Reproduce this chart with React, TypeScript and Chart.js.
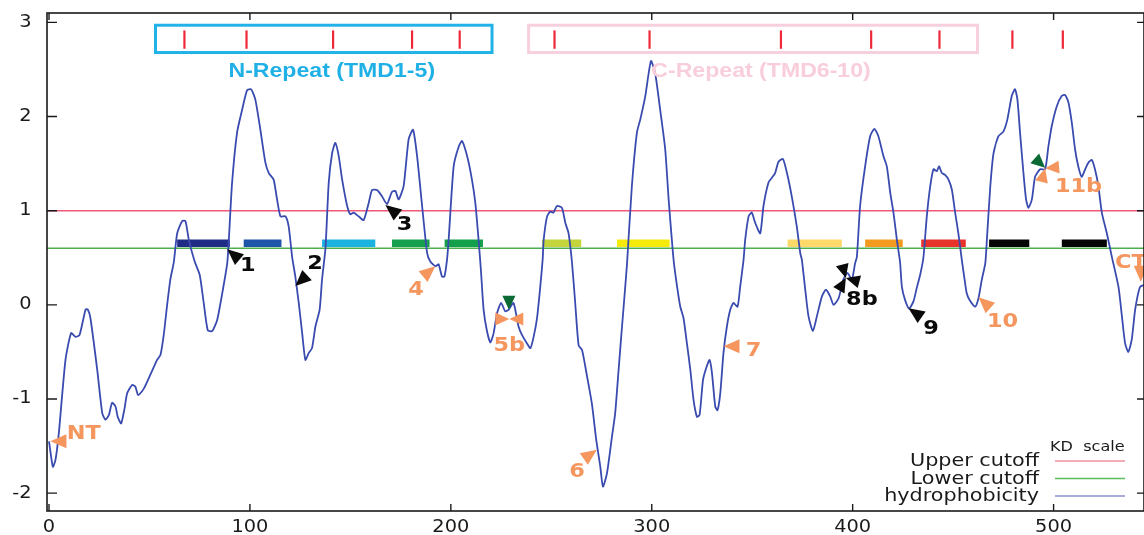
import React, { useEffect, useRef } from 'react';
import { Chart, registerables } from 'chart.js';

Chart.register(...registerables);

// ---------- data ----------
const residues = [
  0, 1.9, 3.2, 4.9, 8.2, 11, 13.2, 15.2, 18.2, 19.3, 20.6, 24, 26.5, 28.1, 29.8, 31.4, 33.1, 34.2, 35.9, 37.6,
  38.9, 41.4, 43, 44.4, 47.2, 50.5, 53.8, 55.5, 57.1, 58.8, 60.4, 62.1, 63.8, 66.3, 67.9, 69.6, 72.5, 75, 77, 79,
  81.2, 83.7, 86.2, 88.7, 89.5, 91.1, 93.6, 96.1, 98.6, 100.6, 102.7, 105.2, 107.7, 109.4, 111.8, 113.5, 115.2, 117.7, 119.3, 121,
  122.6, 124.3, 126, 127.6, 129.3, 130.9, 132.6, 134.7, 135.9, 137.6, 139.2, 140.9, 142.5, 144.2, 145.9, 148.4, 150, 151.6, 154.1, 156.6,
  159.1, 160.8, 163.3, 165.8, 168.2, 170.7, 172.4, 174, 176.5, 179, 181.2, 183.2, 185.7, 188.2, 189.8, 192.3, 193.9, 195.6, 196.8, 198.1,
  198.9, 201.4, 203.9, 205.6, 208.1, 210.5, 212.2, 213.8, 215, 216.3, 218, 219.7, 221.3, 223, 225, 227.1, 228.8, 231.2, 233.7, 235.4,
  237.9, 239.6, 241.2, 242.9, 244.5, 245.7, 246.2, 247.9, 249.5, 251.1, 252.8, 255.3, 257, 258.6, 260.3, 261.9, 263.6, 265.3, 267.8, 270.2,
  272.4, 274.4, 275.7, 277.7, 280.2, 281.8, 283.5, 285.2, 286.8, 287.7, 290.1, 292.6, 294.3, 296.8, 299.6, 301.7, 304.2, 306.7, 308.4, 310,
  311, 312.5, 314.2, 315.8, 317.5, 319.2, 320.8, 322.5, 323.8, 325.5, 327.1, 328.8, 330, 331.6, 332.7, 334.1, 335.7, 337.4, 339.1, 340.7,
  342.7, 344, 345.7, 346.5, 348.2, 349.8, 351.5, 354, 355.6, 358.1, 359.8, 361.4, 363.1, 365.3, 367.3, 369.7, 372.2, 373.9, 374.7, 376.4,
  378, 380.2, 382.2, 384.7, 386.7, 388.8, 390.5, 393, 395.4, 397.4, 399.6, 401.2, 402.1, 403.7, 406.2, 408.7, 410.8, 412.8, 415.3, 417,
  418.7, 420.3, 422, 423.6, 424.5, 426.1, 428.1, 430.3, 431.9, 433.6, 435.2, 436.9, 438.6, 440.2, 441.9, 443, 444.4, 446, 447.7, 449.4,
  451, 452.6, 454.3, 455.5, 456.8, 458.5, 461, 462.6, 464.3, 466, 466.8, 468.5, 470.1, 472.5, 475, 477, 479.2, 480.8, 482, 483.3,
  485, 486.3, 487.5, 489.2, 490.8, 493.3, 495.8, 497.4, 499.1, 501.6, 504.1, 505.7, 507.4, 509.1, 510.7, 512.3, 514, 515.7, 517.3, 519,
  520.6, 522.3, 524, 526.5, 529, 532.3, 534, 535.6, 537.2, 538.9, 540.6, 543, 545,
];

const kdValues = [
  -1.45, -1.72, -1.65, -1.36, -0.585, -0.3, -0.34, -0.32, -0.05, -0.05, -0.14, -0.69, -1.15, -1.22, -1.17, -1.04, -1.08, -1.19, -1.26, -1.1,
  -0.94, -0.85, -0.87, -0.96, -0.89, -0.74, -0.585, -0.53, -0.32, 0, 0.27, 0.45, 0.76, 0.89, 0.89, 0.69, 0.46, 0.32, 0.02, -0.27,
  -0.28, -0.16, 0.12, 0.44, 0.69, 1.29, 1.83, 2.07, 2.28, 2.29, 2.18, 1.86, 1.51, 1.4, 1.33, 1.12, 0.94, 0.94, 0.83, 0.51,
  0.3, 0.02, -0.3, -0.585, -0.51, -0.46, -0.23, -0.05, 0.27, 0.6, 1.29, 1.61, 1.72, 1.58, 1.33, 1.05, 0.96, 0.98, 0.94, 0.9,
  1.08, 1.22, 1.22, 1.15, 1.07, 1.2, 1.21, 1.12, 1.26, 1.76, 1.86, 1.58, 1.05, 0.55, 0.46, 0.41, 0.43, 0.3, 0.3, 0.48,
  0.69, 1.47, 1.68, 1.74, 1.58, 1.33, 1.08, 0.69, 0.36, -0.05, -0.28, -0.4, -0.3, -0.09, 0.02, -0.07, -0.05, 0.02, -0.23, -0.32,
  -0.41, -0.46, -0.34, -0.14, 0.19, 0.48, 0.69, 0.94, 0.99, 0.98, 1.05, 1.03, 0.87, 0.76, 0.45, 0.02, -0.43, -0.48, -0.76, -1.05,
  -1.44, -1.72, -1.93, -1.79, -1.4, -1.15, -0.69, -0.23, 0.19, 0.44, 1.26, 1.83, 1.97, 2.22, 2.59, 2.46, 2.07, 1.65, 1.12, 0.69,
  0.45, 0.21, -0.02, -0.14, -0.41, -0.69, -1.01, -1.19, -1.17, -0.8, -0.67, -0.585, -0.73, -1.08, -1.12, -0.94, -0.51, -0.23, -0.05, 0.02,
  -0.02, 0.19, 0.48, 0.69, 0.94, 0.98, 0.87, 0.76, 1.05, 1.3, 1.35, 1.4, 1.52, 1.55, 1.4, 1.15, 0.83, 0.55, 0.48, 0.16,
  -0.12, -0.28, -0.12, 0.09, 0.16, 0.09, 0, 0.07, 0.27, 0.34, 0.27, 0.44, 0.51, 1.05, 1.47, 1.79, 1.87, 1.79, 1.58, 1.47,
  1.19, 0.98, 0.69, 0.45, 0.19, 0.05, -0.04, 0.04, 0.18, 0.32, 0.5, 0.94, 1.26, 1.44, 1.42, 1.47, 1.4, 1.38, 1.33, 1.22,
  0.98, 0.76, 0.48, 0.3, 0.12, 0.04, -0.02, 0.07, 0.27, 0.44, 0.69, 1.26, 1.61, 1.79, 1.84, 1.97, 2.22, 2.29, 2.18, 1.83,
  1.4, 1.12, 1.03, 1.12, 1.36, 1.44, 1.44, 1.68, 1.9, 2.11, 2.22, 2.23, 2.15, 1.93, 1.65, 1.47, 1.36, 1.44, 1.51, 1.54,
  1.44, 1.26, 0.98, 0.76, 0.51, 0.19, -0.12, -0.41, -0.5, -0.37, -0.05, 0.19, 0.21,
];

const xTickValues = [0, 100, 200, 300, 400, 500];
const yTickValues = [-2, -1, 0, 1, 2, 3];
const upperCutoff = 1.0;
const lowerCutoff = 0.6;

// predicted transmembrane segments (start / end residue) and their colours
const tmdStarts = [63.8, 96.9, 135.9, 170.7, 196.9, 245.4, 282.7, 367.6, 406.2, 434.1, 467.9, 504.1];
const tmdEnds = [90, 115.7, 162.4, 189.4, 216, 264.9, 308.9, 394.6, 424.9, 456.3, 487.9, 526.5];
const tmdColors = ['#1f2c86', '#1d55a8', '#1cb2e0', '#16a04e', '#14a04a', '#c4d43c', '#f6ea0c', '#fdd96a', '#f39b20', '#e8332b', '#050505', '#050505'];
const tmdLevel = 0.655;

// repeat boxes and marks above the plot
const repeatNames = ['N-Repeat (TMD1-5)', 'C-Repeat (TMD6-10)'];
const repeatStarts = [53, 238.7];
const repeatEnds = [220.5, 462.1];
const repeatColors = ['#21b3e8', '#f8d0dd'];
const repeatMarks = [67.4, 98.3, 141.4, 180.7, 204.4, 251.6, 298.9, 364.3, 409.2, 443.2, 479.5, 504.6];

// annotation labels
const labelTexts = ['NT', '1', '2', '3', '4', '5b', '6', '7', '8b', '9', '10', '11b', 'CT'];
const labelX = [17.3, 99.0, 132.4, 177.0, 182.7, 229.1, 262.8, 350.6, 404.6, 439.0, 474.6, 512.4, 530.6];
const labelY = [-1.375, 0.41, 0.44, 0.85, 0.16, -0.434, -1.77, -0.487, 0.053, -0.255, -0.178, 1.259, 0.447];
const labelColors = ['o', 'k', 'k', 'k', 'o', 'o', 'o', 'o', 'k', 'k', 'o', 'o', 'o'];

// arrowheads: tip position (data), pointing angle (deg, screen), colour
const arrowX = [0.7, 88.7, 122.6, 167.4, 192.3, 228.9, 229.1, 229.1, 272.7, 335.7, 396.6, 396.6, 396.6, 427.8, 462.6, 495.8, 495.8, 495.8, 543.4];
const arrowY = [-1.45, 0.59, 0.2, 1.06, 0.41, -0.053, -0.15, -0.15, -1.54, -0.44, 0.284, 0.284, 0.284, -0.035, 0.08, 1.457, 1.45, 1.45, 0.245];
const arrowAngle = [180, 220, 137, 218, 320, 90, 0, 180, 325, 180, 75, 300, 195, 215, 222, 42, 175, 285, 90];
const arrowColors = ['o', 'k', 'k', 'k', 'o', 'g', 'o', 'o', 'o', 'o', 'k', 'k', 'k', 'k', 'o', 'g', 'o', 'o', 'o'];

const legendNames = ['Upper cutoff', 'Lower cutoff', 'hydrophobicity'];

const COLORS: Record<string, string> = { o: '#f5965e', k: '#0a0a0a', g: '#0b6a34' };
const CURVE = '#3a4bb0';
const UPPER = '#f0587a';
const LOWER = '#4db050';

function drawText(ctx: CanvasRenderingContext2D, text: string, x: number, y: number, font: string, color: string, align: CanvasTextAlign, stretch: number) {
  ctx.save();
  ctx.translate(x, y);
  ctx.scale(stretch, 1);
  ctx.font = font;
  ctx.fillStyle = color;
  ctx.textAlign = align;
  ctx.textBaseline = 'middle';
  ctx.fillText(text, 0, 0);
  ctx.restore();
}

function drawArrow(ctx: CanvasRenderingContext2D, tx: number, ty: number, angleDeg: number, color: string, len: number, wid: number) {
  const a = (angleDeg * Math.PI) / 180;
  const dx = Math.cos(a), dy = Math.sin(a);
  const bx = tx - dx * len, by = ty - dy * len;
  const px = -dy * (wid / 2), py = dx * (wid / 2);
  ctx.beginPath();
  ctx.moveTo(tx, ty);
  ctx.lineTo(bx + px, by + py);
  ctx.lineTo(bx - px, by - py);
  ctx.closePath();
  ctx.fillStyle = color;
  ctx.fill();
}

const overlayPlugin = {
  id: 'overlay',
  afterDatasetsDraw(chart: any) {
    const ctx: CanvasRenderingContext2D = chart.ctx;
    const xs = chart.scales.x;
    const ys = chart.scales.y;
    const area = chart.chartArea;
    const X = (v: number) => xs.getPixelForValue(v);
    const Y = (v: number) => ys.getPixelForValue(v);

    // repeat boxes
    const boxTop = 2.97, boxBottom = 2.68;
    ctx.save();
    for (let i = 0; i < repeatNames.length; i++) {
      ctx.strokeStyle = repeatColors[i];
      ctx.lineWidth = 3;
      ctx.strokeRect(X(repeatStarts[i]), Y(boxTop), X(repeatEnds[i]) - X(repeatStarts[i]), Y(boxBottom) - Y(boxTop));
      const mid = (repeatStarts[i] + repeatEnds[i]) / 2;
      drawText(ctx, repeatNames[i], X(mid) + (i === 0 ? 8 : 8), Y(2.48), 'bold 21px "Liberation Sans", Arial, sans-serif', i === 0 ? '#1fb0e6' : '#f8cedb', 'center', 1.1);
    }
    ctx.strokeStyle = '#ee2838';
    ctx.lineWidth = 2.2;
    for (const m of repeatMarks) {
      ctx.beginPath();
      ctx.moveTo(X(m), Y(2.915));
      ctx.lineTo(X(m), Y(2.72));
      ctx.stroke();
    }
    ctx.restore();

    // arrows
    for (let i = 0; i < arrowX.length; i++) {
      const small = arrowColors[i] === 'g' || (i >= 5 && i <= 7) || (i >= 10 && i <= 12) || (i >= 15 && i <= 17);
      drawArrow(ctx, X(arrowX[i]), Y(arrowY[i]), arrowAngle[i], COLORS[arrowColors[i]], small ? 14 : 16, small ? 13 : 14);
    }
    // labels
    for (let i = 0; i < labelTexts.length; i++) {
      drawText(ctx, labelTexts[i], X(labelX[i]), Y(labelY[i]), 'bold 20px "DejaVu Sans", Verdana, sans-serif', COLORS[labelColors[i]], labelTexts[i] === 'CT' ? 'left' : 'center', 1.12);
    }

    // frame
    ctx.save();
    ctx.strokeStyle = '#1a1a1a';
    ctx.lineWidth = 1.6;
    ctx.strokeRect(area.left, area.top, area.right - area.left, area.bottom - area.top);
    ctx.lineWidth = 1.4;
    for (const v of yTickValues) {
      const y = Y(v);
      ctx.beginPath();
      ctx.moveTo(area.left, y); ctx.lineTo(area.left + 10, y);
      ctx.moveTo(area.right, y); ctx.lineTo(area.right - 7, y);
      ctx.stroke();
      drawText(ctx, String(v), 31.5, y, '17px "DejaVu Sans", Verdana, sans-serif', '#1a1a1a', 'right', 1.14);
    }
    for (const v of xTickValues) {
      const x = X(v);
      ctx.beginPath();
      ctx.moveTo(x, area.bottom); ctx.lineTo(x, area.bottom - 7);
      ctx.moveTo(x, area.top); ctx.lineTo(x, area.top + 7);
      ctx.stroke();
      drawText(ctx, String(v), x, area.bottom + 17, '17px "DejaVu Sans", Verdana, sans-serif', '#1a1a1a', 'center', 1.14);
    }
    ctx.restore();

    // legend
    ctx.save();
    drawText(ctx, 'KD  scale', 1050, 447, '14px "DejaVu Sans", Verdana, sans-serif', '#1a1a1a', 'left', 1.15);
    const legendColors = ['#f0909c', '#5cbc5c', '#8a90d0'];
    const rowsY = [462, 479.5, 497];
    for (let i = 0; i < legendNames.length; i++) {
      drawText(ctx, legendNames[i], 1039, rowsY[i], '17px "DejaVu Sans", Verdana, sans-serif', '#1a1a1a', 'right', 1.22);
      ctx.strokeStyle = legendColors[i];
      ctx.lineWidth = 1.6;
      ctx.beginPath();
      ctx.moveTo(1055, rowsY[i] - 1);
      ctx.lineTo(1125, rowsY[i] - 1);
      ctx.stroke();
    }
    ctx.restore();
  },
};

export default function App() {
  const ref = useRef<HTMLCanvasElement>(null);
  useEffect(() => {
    const canvas = ref.current;
    if (!canvas) return;
    const xMin = -1, xMax = 545;
    const datasets: any[] = [
      {
        label: 'hydrophobicity',
        data: residues.map((r, i) => ({ x: r, y: kdValues[i] })),
        borderColor: CURVE,
        borderWidth: 1.8,
        pointRadius: 0,
        tension: 0.2,
        fill: false,
      },
      ...tmdStarts.map((s, i) => ({
        label: 'TMD' + (i + 1),
        data: [{ x: s, y: tmdLevel }, { x: tmdEnds[i], y: tmdLevel }],
        borderColor: tmdColors[i],
        borderWidth: 7.5,
        borderCapStyle: 'butt',
        pointRadius: 0,
        fill: false,
      })),
      {
        label: 'Upper cutoff',
        data: [{ x: xMin, y: upperCutoff }, { x: xMax, y: upperCutoff }],
        borderColor: UPPER,
        borderWidth: 1.5,
        pointRadius: 0,
        fill: false,
      },
      {
        label: 'Lower cutoff',
        data: [{ x: xMin, y: lowerCutoff }, { x: xMax, y: lowerCutoff }],
        borderColor: LOWER,
        borderWidth: 1.5,
        pointRadius: 0,
        fill: false,
      },
    ];
    const chart = new Chart(canvas, {
      type: 'line',
      data: { datasets },
      options: {
        animation: false,
        responsive: false,
        devicePixelRatio: 1,
        layout: { padding: { left: 47, right: 0, top: 13, bottom: 24 } },
        plugins: { legend: { display: false }, tooltip: { enabled: false } },
        scales: {
          x: { type: 'linear', min: xMin, max: xMax, display: false },
          y: { type: 'linear', min: -2.19, max: 3.1, display: false },
        },
      },
      plugins: [overlayPlugin],
    } as any);
    return () => chart.destroy();
  }, []);
  return (
    <div style={{ position: 'fixed', left: 0, top: 0, width: 1144, height: 535, background: '#ffffff' }}>
      <canvas ref={ref} width={1144} height={535} style={{ display: 'block', width: 1144, height: 535 }} />
    </div>
  );
}
